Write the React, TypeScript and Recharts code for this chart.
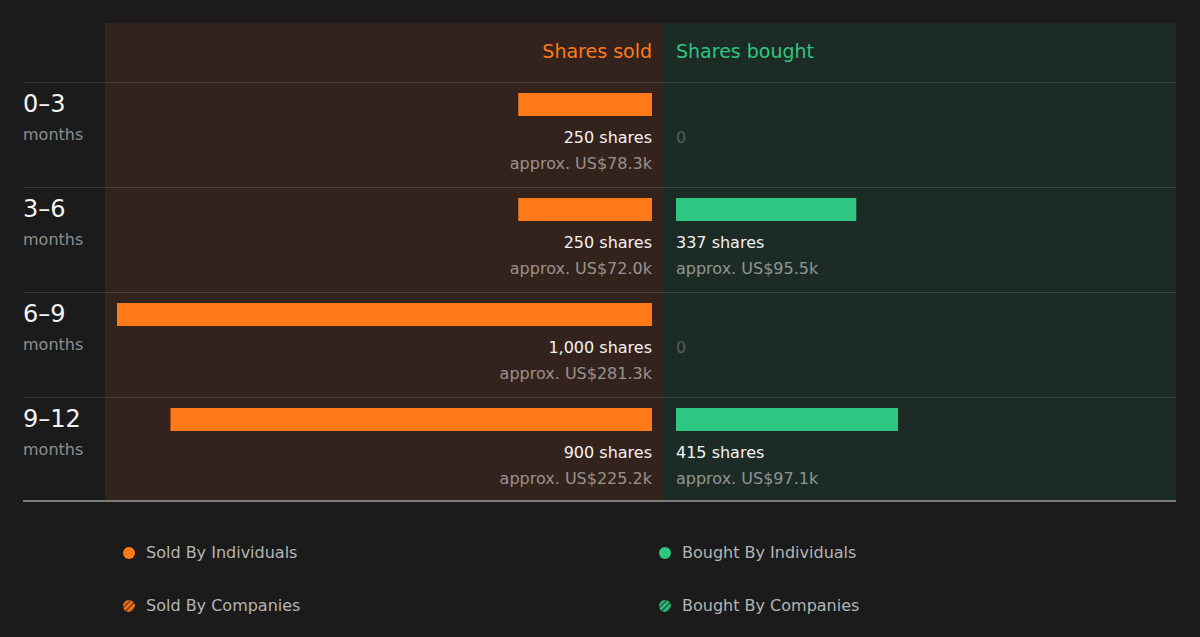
import React from 'react';
import { BarChart, Bar, XAxis, YAxis, LabelList } from 'recharts';

// Insider trading summary over the last 12 months, split by quarter-length windows
const periods = ['0–3', '3–6', '6–9', '9–12'];
const soldByIndividuals = [250, 250, 1000, 900];
const soldByCompanies = [0, 0, 0, 0];
const boughtByIndividuals = [0, 337, 0, 415];
const boughtByCompanies = [0, 0, 0, 0];
const soldValueK = [78.3, 72.0, 281.3, 225.2];
const boughtValueK = [0, 95.5, 0, 97.1];
const shareDomain = [0, 1000];

const ORANGE = '#ff7918';
const GREEN = '#2ec680';
const FONT = '"DejaVu Sans", sans-serif';
const BAR_LIFT = 30;

const rows = periods.map((period, i) => ({
  period,
  soldInd: soldByIndividuals[i],
  soldCo: soldByCompanies[i],
  boughtInd: boughtByIndividuals[i],
  boughtCo: boughtByCompanies[i],
}));

const fmt = (n: number) => n.toLocaleString('en-US');

// Bars sit near the top of each row so the two text lines fit underneath
const liftedBar = (fill: string) => (props: any) => {
  const { x, y, width, height } = props;
  const w = Math.abs(width || 0);
  if (!w) return <g />;
  const left = Math.min(x, x + width);
  return <rect x={left} y={y - BAR_LIFT} width={w} height={height} fill={fill} />;
};

const rowLabel = (side: 'sold' | 'bought') => (props: any) => {
  const { viewBox, index } = props;
  if (!viewBox) return null;
  const { x, y, width } = viewBox;
  const top = y - BAR_LIFT;
  const total =
    side === 'sold'
      ? soldByIndividuals[index] + soldByCompanies[index]
      : boughtByIndividuals[index] + boughtByCompanies[index];
  const value = side === 'sold' ? soldValueK[index] : boughtValueK[index];
  const baseX = side === 'sold' ? Math.max(x, x + width) : Math.min(x, x + width);
  const anchor = side === 'sold' ? 'end' : 'start';
  if (!total) {
    return (
      <text x={baseX} y={top + 50} textAnchor={anchor} fontSize={16} fontFamily={FONT} fill="rgba(255,255,255,0.25)">
        0
      </text>
    );
  }
  return (
    <g>
      <text x={baseX} y={top + 50} textAnchor={anchor} fontSize={16} fontFamily={FONT} fill="#f2f2f2">
        {`${fmt(total)} shares`}
      </text>
      <text x={baseX} y={top + 76} textAnchor={anchor} fontSize={16} fontFamily={FONT} fill="rgba(255,255,255,0.5)">
        {`approx. US$${value.toFixed(1)}k`}
      </text>
    </g>
  );
};

const RowTick = (props: any) => {
  const { y, payload } = props;
  return (
    <g>
      <text x={23} y={y - 23} fontSize={24} fontFamily={FONT} fill="#f4f4f4">
        {payload.value}
      </text>
      <text x={23} y={y + 5} fontSize={16} fontFamily={FONT} fill="#8e8e8e">
        months
      </text>
    </g>
  );
};

const HatchDot = ({ color }: { color: string }) => {
  const id = `hatch-${color.replace('#', '')}`;
  return (
    <svg width={14} height={14} style={{ display: 'block' }}>
      <defs>
        <pattern id={id} width={4} height={4} patternUnits="userSpaceOnUse" patternTransform="rotate(45)">
          <rect width={4} height={4} fill={color} opacity={0.4} />
          <rect width={2.2} height={4} fill={color} />
        </pattern>
      </defs>
      <circle cx={7} cy={7} r={6} fill={`url(#${id})`} />
    </svg>
  );
};

const SolidDot = ({ color }: { color: string }) => (
  <svg width={14} height={14} style={{ display: 'block' }}>
    <circle cx={7} cy={7} r={6} fill={color} />
  </svg>
);

const legendItems = [
  { label: 'Sold By Individuals', color: ORANGE, hatch: false, left: 122, top: 546 },
  { label: 'Bought By Individuals', color: GREEN, hatch: false, left: 658, top: 546 },
  { label: 'Sold By Companies', color: ORANGE, hatch: true, left: 122, top: 599 },
  { label: 'Bought By Companies', color: GREEN, hatch: true, left: 658, top: 599 },
];

const rowLines = [82, 187, 292, 397];

export default function App() {
  return (
    <div
      style={{
        position: 'relative',
        width: 1200,
        height: 637,
        overflow: 'hidden',
        background: '#1b1b1b',
        fontFamily: FONT,
      }}
    >
      <style>{`body{margin:0;background:#1b1b1b;}`}</style>
      {/* column panels */}
      <div style={{ position: 'absolute', left: 105, top: 23, width: 559, height: 478, background: '#33231c' }} />
      <div style={{ position: 'absolute', left: 664, top: 23, width: 512, height: 478, background: '#1c2b25' }} />
      {rowLines.map((t) => (
        <div
          key={t}
          style={{ position: 'absolute', left: 23, top: t, width: 1153, height: 1, background: 'rgba(255,255,255,0.12)' }}
        />
      ))}
      <div style={{ position: 'absolute', left: 23, top: 500, width: 1153, height: 2, background: '#7c7c7c' }} />

      {/* column headers */}
      <div
        style={{ position: 'absolute', right: 1200 - 652, top: 40, fontSize: 19, color: ORANGE, whiteSpace: 'nowrap' }}
      >
        Shares sold
      </div>
      <div style={{ position: 'absolute', left: 676, top: 40, fontSize: 19, color: GREEN, whiteSpace: 'nowrap' }}>
        Shares bought
      </div>

      {/* sold side: axis runs right-to-left */}
      <div style={{ position: 'absolute', left: 0, top: 0 }}>
        <BarChart
          width={664}
          height={637}
          data={rows}
          layout="vertical"
          margin={{ top: 82, right: 12, bottom: 135, left: 0 }}
          barSize={23}
        >
          <XAxis type="number" domain={shareDomain} reversed hide allowDataOverflow />
          <YAxis
            type="category"
            dataKey="period"
            width={117}
            axisLine={false}
            tickLine={false}
            tick={<RowTick />}
            interval={0}
          />
          <Bar dataKey="soldInd" stackId="s" fill={ORANGE} shape={liftedBar(ORANGE)} isAnimationActive={false}>
            <LabelList dataKey="soldInd" content={rowLabel('sold')} />
          </Bar>
          <Bar dataKey="soldCo" stackId="s" fill={ORANGE} shape={liftedBar(ORANGE)} isAnimationActive={false} />
        </BarChart>
      </div>

      {/* bought side: axis runs left-to-right */}
      <div style={{ position: 'absolute', left: 664, top: 0 }}>
        <BarChart
          width={547}
          height={637}
          data={rows}
          layout="vertical"
          margin={{ top: 82, right: 0, bottom: 135, left: 12 }}
          barSize={23}
        >
          <XAxis type="number" domain={shareDomain} hide allowDataOverflow />
          <YAxis type="category" dataKey="period" hide />
          <Bar dataKey="boughtInd" stackId="b" fill={GREEN} shape={liftedBar(GREEN)} isAnimationActive={false}>
            <LabelList dataKey="boughtInd" content={rowLabel('bought')} />
          </Bar>
          <Bar dataKey="boughtCo" stackId="b" fill={GREEN} shape={liftedBar(GREEN)} isAnimationActive={false} />
        </BarChart>
      </div>

      {/* legend */}
      {legendItems.map((item) => (
        <div
          key={item.label}
          style={{
            position: 'absolute',
            left: item.left,
            top: item.top,
            display: 'flex',
            alignItems: 'center',
            gap: 10,
            fontSize: 16,
            color: '#b5b5b5',
            whiteSpace: 'nowrap',
            lineHeight: '14px',
          }}
        >
          {item.hatch ? <HatchDot color={item.color} /> : <SolidDot color={item.color} />}
          <span>{item.label}</span>
        </div>
      ))}
    </div>
  );
}
